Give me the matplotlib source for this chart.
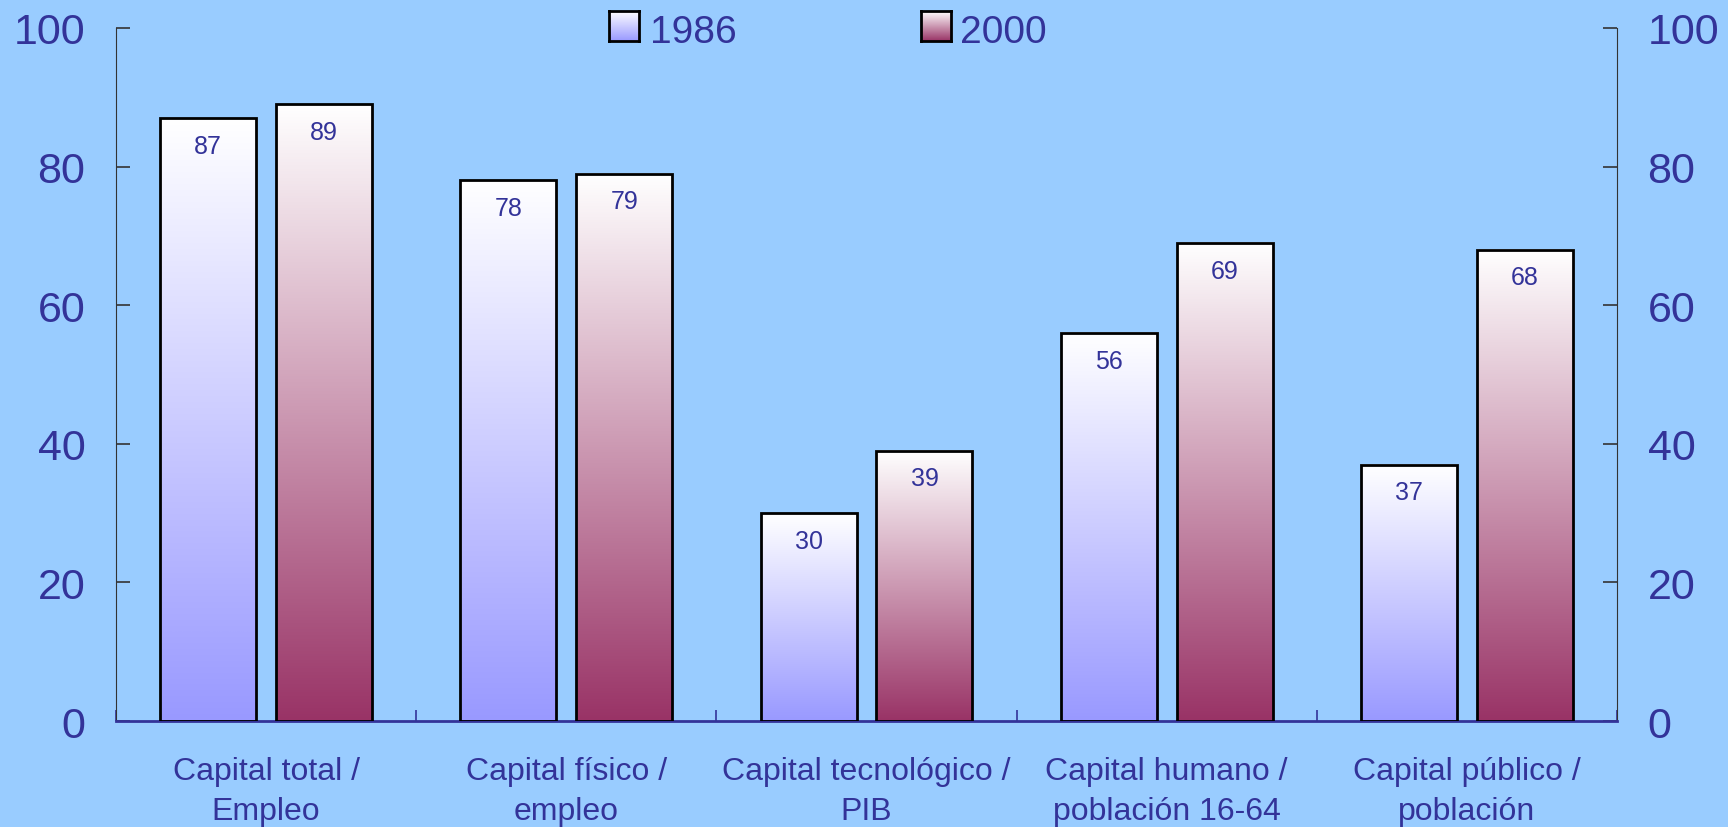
import numpy as np
import matplotlib
matplotlib.use("Agg")
import matplotlib.pyplot as plt
from matplotlib.colors import LinearSegmentedColormap

# chart data
categories = ["Capital total /\nEmpleo", "Capital físico /\nempleo",
              "Capital tecnológico /\nPIB", "Capital humano /\npoblación 16-64",
              "Capital público /\npoblación"]
years = ["1986", "2000"]
values_1986 = [87, 78, 30, 56, 37]
values_2000 = [89, 79, 39, 69, 68]
yticks = [0, 20, 40, 60, 80, 100]

bg = "#99CCFF"
txt = "#333399"
plt.rcParams["font.family"] = ["Liberation Sans", "DejaVu Sans"]

# gradients white (top) -> colour (bottom)
cmaps = [LinearSegmentedColormap.from_list("g86", ["#9999FF", "#FFFFFF"]),
         LinearSegmentedColormap.from_list("g00", ["#993366", "#FFFFFF"])]
grad = np.linspace(0, 1, 256).reshape(-1, 1)

fig = plt.figure(figsize=(17.28, 8.28), dpi=100, facecolor=bg)
ax = fig.add_axes([0.0671, 0.128, 0.8687, 0.837])
ax.set_facecolor(bg)

x = np.arange(len(categories))
width = 0.32
offset = 0.193

for k, vals in enumerate([values_1986, values_2000]):
    pos = x + (offset if k else -offset)
    bars = ax.bar(pos, vals, width, facecolor="none", edgecolor="black",
                  linewidth=2, zorder=3)
    for b, v in zip(bars, vals):
        x0 = b.get_x()
        ax.imshow(grad, cmap=cmaps[k], origin="lower", aspect="auto",
                  extent=(x0, x0 + width, 0, v), zorder=2)
        ax.text(b.get_x() + width / 2, v - 4, str(v), ha="center", va="center",
                color=txt, fontsize=18, zorder=4)

ax.set_xlim(-0.5, len(categories) - 0.5)
ax.set_ylim(0, 100)
ax.set_yticks(yticks)
ax.set_xticks(x)
ax.set_xticklabels(categories, fontsize=23, color=txt, linespacing=1.45)
ax.set_xticks(np.arange(-0.5, len(categories)), minor=True)
ax.tick_params(axis="x", which="major", length=0, pad=25)
ax.tick_params(axis="x", which="minor", direction="in", length=8,
               color=txt, width=1.2)
ax.tick_params(axis="y", direction="in", length=10, width=1.2, color="#333333",
               labelsize=31, labelcolor=txt, right=True, labelright=True, pad=22)

ax.spines["top"].set_visible(False)
ax.spines["left"].set_color("#333333")
ax.spines["right"].set_color("#333333")
ax.spines["bottom"].set_color(txt)
ax.spines["bottom"].set_linewidth(2)

# legend, drawn by hand
for k, (lx, tx) in enumerate([(0.3524, 0.3762), (0.533, 0.5556)]):
    sw = fig.add_axes([lx, 0.9493, 0.01736, 0.0362])
    sw.imshow(grad, cmap=cmaps[k], origin="lower", aspect="auto")
    sw.set_xticks([])
    sw.set_yticks([])
    for s in sw.spines.values():
        s.set_linewidth(2)
    fig.text(tx, 0.948, years[k], fontsize=28, color=txt, va="baseline")

fig.savefig("out.png", dpi=100, facecolor=bg)
